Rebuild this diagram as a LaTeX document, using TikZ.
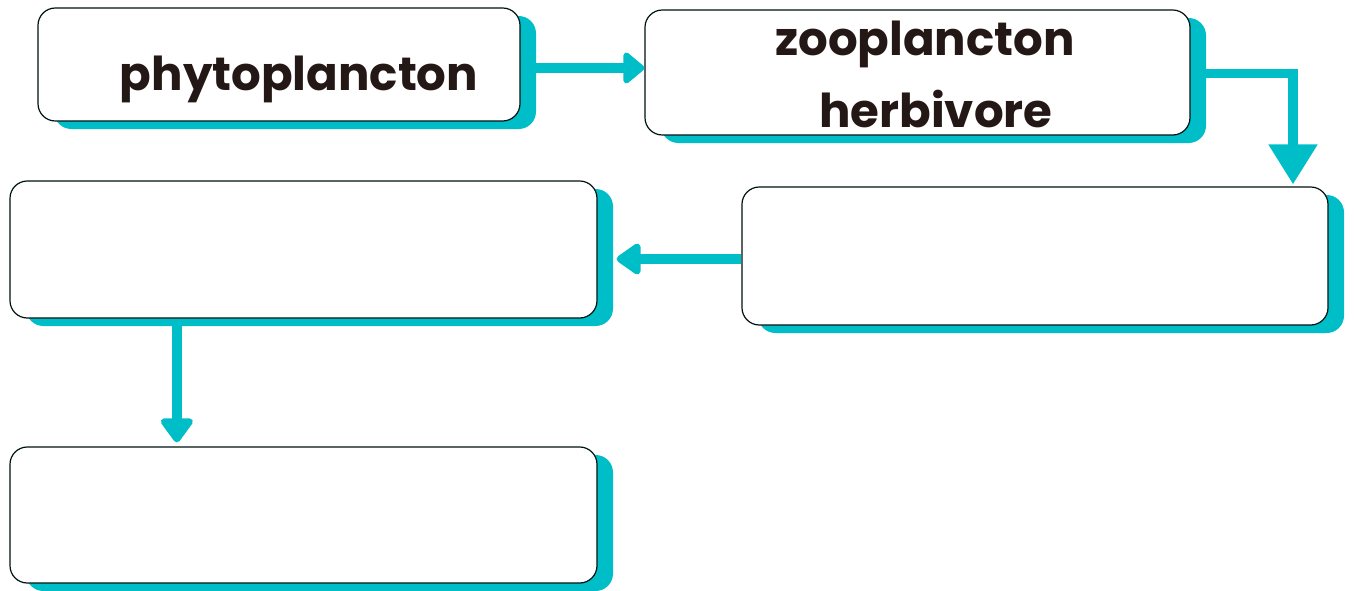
\documentclass[tikz,border=0pt]{standalone}
\usepackage{fontspec}
\setmainfont{Poppins}
\usetikzlibrary{arrows.meta,shadows,calc}
\definecolor{tealc}{RGB}{0,190,200}
\definecolor{inkc}{RGB}{35,24,21}
\begin{document}
\begin{tikzpicture}[x=0.75pt,y=-0.75pt,
  box/.style={draw=black!85!teal, line width=0.9pt, fill=white, rounded corners=13pt,
    inner sep=0pt,
    drop shadow={shadow xshift=12pt, shadow yshift=-6pt, fill=tealc, opacity=1}},
  conn/.style={draw=tealc, line width=7pt},
  word/.style={anchor=base, text=inkc, font=\fontsize{35}{42}\selectfont\bfseries, inner sep=0pt}
]
\useasboundingbox (0,0) rectangle (1354,590);

% boxes
\node[box, minimum width=361.5pt, minimum height=84.75pt] (b1) at (279,64.5) {};
\node[box, minimum width=408.75pt, minimum height=93.75pt] (b2) at (917.5,72.5) {};
\node[box, minimum width=439.5pt, minimum height=103.5pt] (b3) at (1035,256) {};
\node[box, minimum width=440.25pt, minimum height=102.75pt] (b4) at (303.5,249.5) {};
\node[box, minimum width=440.25pt, minimum height=102pt] (b5) at (303.5,515) {};

% texts
\node[word] (t1) at (299,90) {phytoplancton};
\node[word] (t2) at (925,55) {zooplancton};
\node[word] (t3) at (936,127) {herbivore};

% connectors
\coordinate (s1) at ([yshift=-2.6pt]b1.east);
\draw[conn, -{Triangle[length=17pt, width=27pt, round]}] (s1) -- (s1 -| b2.west);

\coordinate (c1) at (1293,73.5);
\draw[conn, -{Triangle[length=30pt, width=35pt]}, shorten >=1.5pt] (b2.east |- c1) -- (c1) -- (c1 |- b3.north);

\coordinate (s3) at ([yshift=-2.25pt]b3.west);
\coordinate (e3) at ([xshift=14.25pt]b4.east);
\draw[conn, -{Triangle[length=20pt, width=26.5pt, round]}] (s3) -- (s3 -| e3);

\coordinate (s4) at ([xshift=125.6pt]b4.south west);
\draw[conn, -{Triangle[length=20pt, width=27.5pt, round]}, shorten >=3pt] (s4) -- (s4 |- b5.north);
\end{tikzpicture}
\end{document}
